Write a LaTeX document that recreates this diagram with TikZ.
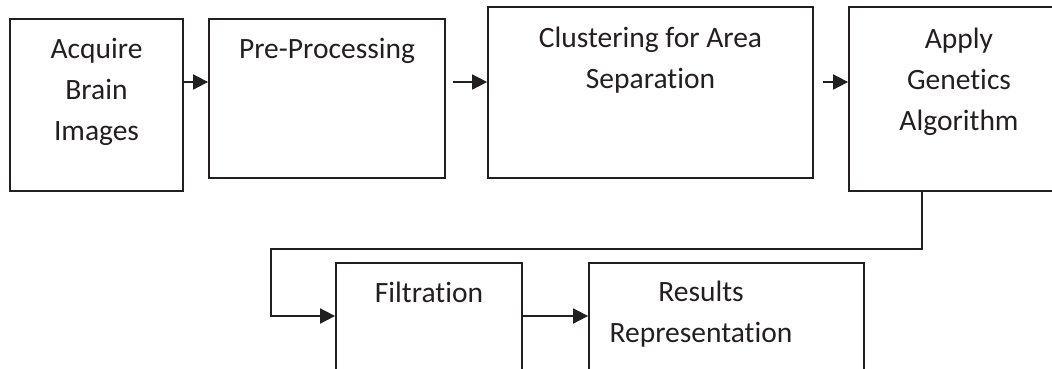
\documentclass[tikz,border=0pt]{standalone}
\usepackage{fontspec}
\setmainfont[Ligatures={NoCommon}]{Carlito}
\usetikzlibrary{arrows.meta}
\definecolor{ink}{HTML}{231F20}
\begin{document}
\begin{tikzpicture}[x=1pt,y=-1pt,
  box/.style={draw=ink,line width=1.8pt,rectangle,inner sep=0pt},
  txt/.style={text=ink,align=center,anchor=base,inner sep=0pt,font=\fontsize{29.5}{41}\selectfont},
  arr/.style={draw=ink,line width=1.8pt,-{Triangle[length=15pt,width=15pt]}}]
\useasboundingbox (0,0) rectangle (1052,368);
\clip (0,0) rectangle (1052,368);
\node[box,minimum width=173pt,minimum height=172pt] (b1) at (96.5,105) {};
\node[box,minimum width=236pt,minimum height=159pt] (b2) at (327,98.5) {};
\node[box,minimum width=325pt,minimum height=171pt] (b3) at (650.5,92.5) {};
\node[box,minimum width=221pt,minimum height=184pt] (b4) at (959.5,99) {};
\node[box,minimum width=186pt,minimum height=137pt] (b5) at (429,331.5) {};
\node[box,minimum width=275pt,minimum height=137pt] (b6) at (726.5,331.5) {};
\node[txt] (t1) at (96.5,140) {Acquire\\Brain\\Images};
\node[txt] (t2) at (327,58) {Pre-Processing};
\node[txt] (t3) at (650.5,88) {Clustering for Area\\Separation};
\node[txt] (t4) at (959,130) {Apply\\Genetics\\Algorithm};
\node[txt] (t5) at (429,302) {Filtration};
\node[txt] (t6) at (701,342) {Results\\Representation};
\coordinate (s2) at (453,82);
\coordinate (s3) at (823,82);
\coordinate (k1) at (922,249);
\coordinate (k2) at (271,249);
\coordinate (k3) at (271,316);
\draw[arr] (b1.east |- s2) -- (b2.west |- s2);
\draw[arr] (s2) -- (b3.west |- s2);
\draw[arr] (s3) -- (b4.west |- s3);
\draw[arr] (b4.south -| k1) -- (k1) -- (k2) -- (k3) -- (b5.west |- k3);
\draw[arr] (b5.east |- k3) -- (b6.west |- k3);
\end{tikzpicture}
\end{document}
